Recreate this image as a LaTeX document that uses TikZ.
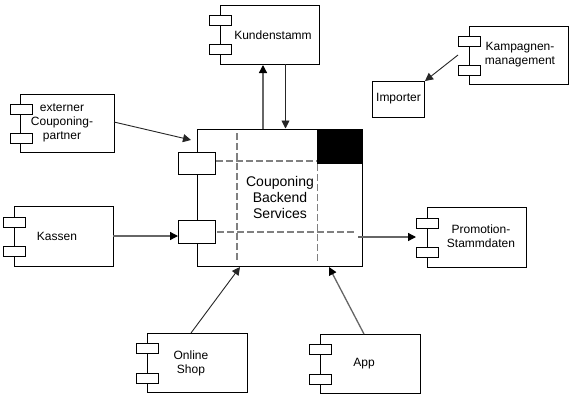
\documentclass[tikz,border=0pt]{standalone}
\usepackage{fontspec}
\setmainfont{Liberation Sans}
\usetikzlibrary{arrows.meta,calc}
\newcommand{\boxnode}[6][boxstyle]{% style, name, x1,y1,x2,y2
  \pgfmathsetmacro{\bw}{#5-#3}\pgfmathsetmacro{\bh}{#6-#4}
  \node[#1,minimum width=\bw pt,minimum height=\bh pt] (#2) at ({(#3+#5)/2},{(#4+#6)/2}) {};}
\newcommand{\compnode}[8]{% name,x1,y1,x2,y2,tabx1,taby1,taby2 
  \boxnode{#1}{#2}{#3}{#4}{#5}
  \boxnode{#1a}{#6}{#7}{#6+22}{#7+10}
  \boxnode{#1b}{#6}{#8}{#6+22}{#8+10}}
\tikzset{
  x=1pt,y=-1pt,
  boxstyle/.style={draw=black,fill=white,line width=0.9pt,inner sep=0pt,outer sep=0pt},
  blackbox/.style={draw=black,fill=black,line width=0.5pt,inner sep=0pt,outer sep=0pt},
  label/.style={align=center,inner sep=0pt,font=\fontsize{12}{14}\selectfont},
  biglabel/.style={align=center,inner sep=0pt,font=\fontsize{14}{16}\selectfont},
  thin conn/.style={draw=black!85,line width=0.9pt,-{Triangle[length=8pt,width=8pt]}},
  thick conn/.style={draw=black!60,line width=1.3pt,-{Triangle[length=8pt,width=8pt,color=black]}},
  grid dash/.style={draw=black!50,line width=1.4pt,dash pattern=on 7pt off 3pt},
}
\begin{document}
\begin{tikzpicture}
\useasboundingbox[fill=white] (0,0) rectangle (587,413);
% main component
\boxnode{main}{197}{129}{362}{266}
\boxnode[blackbox]{blk}{317}{129}{361}{163}
\coordinate (va1) at (237,133); \coordinate (va2) at (237,261);
\coordinate (vb1) at (317.5,164); \coordinate (vb2) at (317.5,264);
\coordinate (ha1) at (216,161); \coordinate (ha2) at (317,161);
\coordinate (hb1) at (217,232); \coordinate (hb2) at (356,232);
\draw[grid dash] (va1) -- (va2);
\draw[grid dash] (vb1) -- (vb2);
\draw[grid dash] (ha1) -- (ha2);
\draw[grid dash] (hb1) -- (hb2);
\boxnode{portA}{178}{152}{215}{174}
\boxnode{portB}{178}{220}{215}{243}
\node[biglabel,fill=white] (mainlabel) at (280,197) {Couponing\\Backend\\Services};
% components
\compnode{kunde}{220}{5}{319}{64}{209}{15}{44}
\node[label] (kundelabel) at (273,35) {Kundenstamm};
\compnode{ext}{20}{94}{114}{152}{10}{104}{133}
\node[label] (extlabel) at (62,123) {externer\\Couponing-\\partner};
\compnode{kassen}{14}{206}{113}{266}{3}{217}{246}
\node[label] (kassenlabel) at (57,236) {Kassen};
\compnode{online}{147}{333}{247}{392}{136}{343}{373}
\node[label] (onlinelabel) at (191,363) {Online\\Shop};
\compnode{app}{320}{334}{420}{393}{309}{344}{374}
\node[label] (applabel) at (364,364) {App};
\compnode{promo}{427}{207}{526}{267}{416.5}{218}{247}
\node[label] (promolabel) at (481,236.5) {Promotion-\\Stammdaten};
\compnode{kamp}{469}{26}{568}{84}{458.5}{36}{65}
\node[label] (kamplabel) at (520,55) {Kampagnen-\\management};
\boxnode{imp}{372.5}{81}{424}{117}
\node[label] (implabel) at (398.5,98.5) {Importer};
% connector ends
\coordinate (extS) at (114,122);
\coordinate (extE) at (191,140);
\coordinate (kasS) at (113,236);
\coordinate (kasE) at (178,236);
\coordinate (onlS) at (191,333);
\coordinate (onlE) at (240,267);
\coordinate (appS) at (364,334);
\coordinate (appE) at (329,267);
\coordinate (kampS) at (458,55);
\coordinate (kampE) at (425,81);
\coordinate (proS) at (358,237);
\coordinate (proE) at (416,237);
\coordinate (upS) at (263,129);
\coordinate (upE) at (263,65);
\coordinate (dnS) at (285.5,64);
\coordinate (dnE) at (285.5,128.5);
% connectors
\draw[thin conn] (extS) -- (extE);
\draw[thick conn] (kasS) -- (kasE);
\draw[thin conn] (onlS) -- (onlE);
\draw[thick conn] (appS) -- (appE);
\draw[thin conn] (kampS) -- (kampE);
\draw[thick conn] (proS) -- (proE);
\draw[thick conn] (upS) -- (upE);
\draw[thin conn] (dnS) -- (dnE);
\end{tikzpicture}
\end{document}
